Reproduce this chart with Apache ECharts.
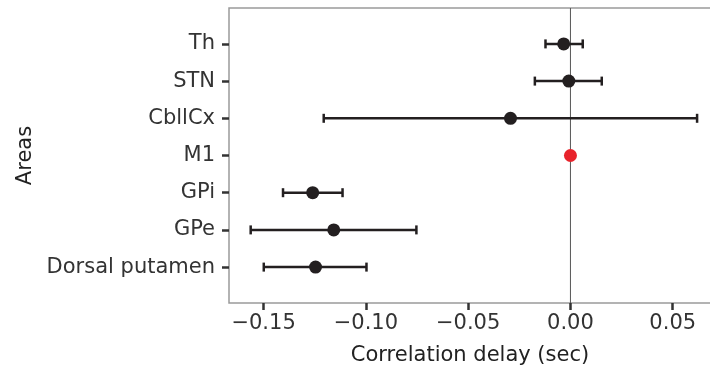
<!DOCTYPE html>
<html><head><meta charset="utf-8">
<script src="https://cdn.jsdelivr.net/npm/echarts@6/dist/echarts.min.js"></script>
<style>html,body{margin:0;padding:0;background:#fff}#c{width:710px;height:368px}</style>
</head><body><div id="c"></div>
<script>
const categories = ['Th','STN','CbllCx','M1','GPi','GPe','Dorsal putamen'];
const means = [-0.0033,-0.0008,-0.0293,0.0,-0.1260,-0.1157,-0.1246];
const lower = [-0.0122,-0.0174,-0.1206,null,-0.1405,-0.1563,-0.1499];
const upper = [0.0060,0.0153,0.0619,null,-0.1114,-0.0753,-0.0997];
const referenceArea = 'M1';
const xTicks = [-0.15,-0.10,-0.05,0.00,0.05];

const font = 'DejaVu Sans';
const fs = 21;
const yMin = 0.035, yMax = 7.965;
const pos = categories.map((c,i)=>i+1);
const chart = echarts.init(document.getElementById('c'));
const errData = categories.map((c,i)=> lower[i]==null ? null : [pos[i], lower[i], upper[i]]).filter(d=>d);
const ptData = categories.map((c,i)=>({value:[means[i], pos[i]], itemStyle:{color: c===referenceArea ? '#e8232b' : '#231f20', opacity:1}}));
chart.setOption({
  animation:false,
  grid:{left:229, top:8, width:482, height:295, show:true, borderColor:'#9a9a9a', borderWidth:1.5, containLabel:false, outerBoundsMode:'none'},
  xAxis:{type:'value', min:-0.1669, max:0.0687,
    name:'Correlation delay (sec)', nameLocation:'middle', nameGap:42,
    nameTextStyle:{fontFamily:font, fontSize:fs, color:'#222'},
    axisLine:{show:false, onZero:false}, splitLine:{show:false},
    axisTick:{show:true, length:7, lineStyle:{color:'#333', width:2.5}, customValues:xTicks},
    axisLabel:{fontFamily:font, fontSize:fs, color:'#333', margin:10, customValues:xTicks,
      formatter:v=>(v<0?'\u2212':'')+Math.abs(v).toFixed(2)}},
  yAxis:{type:'value', min:yMin, max:yMax, inverse:true,
    name:'Areas', nameLocation:'middle', nameGap:190, nameRotate:90,
    nameTextStyle:{fontFamily:font, fontSize:fs, color:'#222'},
    axisLine:{show:false, onZero:false}, splitLine:{show:false},
    axisTick:{show:true, length:7, lineStyle:{color:'#333', width:2.5}, customValues:pos},
    axisLabel:{fontFamily:font, fontSize:fs, color:'#333', margin:14, customValues:pos,
      formatter:v=>categories[Math.round(v)-1]}},
  series:[
    {type:'line', z:1, silent:true, symbol:'none', data:[[0,yMin],[0,yMax]],
     lineStyle:{color:'#555', width:1}},
    {type:'custom', z:2, data:errData, encode:{x:[1,2], y:0},
     renderItem:(params, api)=>{
       const y=api.value(0), lo=api.value(1), hi=api.value(2);
       const a=api.coord([lo,y]), b=api.coord([hi,y]);
       const h=4.5, st={stroke:'#231f20', lineWidth:2.5};
       return {type:'group', children:[
         {type:'line', shape:{x1:a[0],y1:a[1],x2:b[0],y2:b[1]}, style:st},
         {type:'line', shape:{x1:a[0],y1:a[1]-h,x2:a[0],y2:a[1]+h}, style:st},
         {type:'line', shape:{x1:b[0],y1:b[1]-h,x2:b[0],y2:b[1]+h}, style:st}
       ]};
     }},
    {type:'scatter', z:3, symbolSize:13, data:ptData}
  ]
});
</script></body></html>
